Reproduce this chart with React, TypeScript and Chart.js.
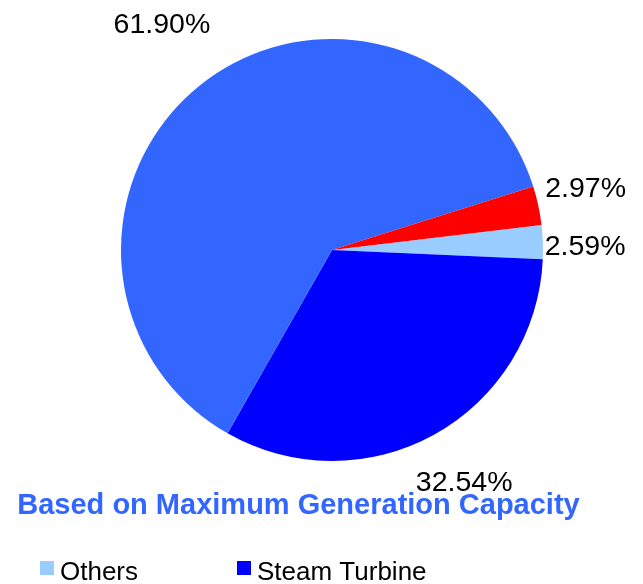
import React, { useEffect, useRef } from "react";
import { Chart, registerables } from "chart.js";

Chart.register(...registerables);

const categories = ["Others", "Steam Turbine", "Combined Cycle", "Gas Turbine"];
const shares = [2.59, 32.54, 61.9, 2.97];
const sliceColors = ["#99CCFF", "#0000FF", "#3366FF", "#FF0000"];
const titleText = "Based on Maximum Generation Capacity";

// label placement: distance from centre (x radius) and angle tweak (deg)
const labelDistance = [1.2, 1.262, 1.345, 1.238];
const labelAngleShift = [1.0, -0.85, 2.1, -1.7];

const FONT = "'Liberation Sans', Arial, Helvetica, sans-serif";

const overlayPlugin = {
  id: "overlay",
  afterDraw(chart: any) {
    const ctx = chart.ctx as CanvasRenderingContext2D;
    const meta = chart.getDatasetMeta(0);
    ctx.save();
    // percentage labels
    ctx.font = `28.5px ${FONT}`;
    ctx.fillStyle = "#000000";
    ctx.textAlign = "center";
    ctx.textBaseline = "alphabetic";
    meta.data.forEach((arc: any, i: number) => {
      const p = arc.getProps(["x", "y", "startAngle", "endAngle", "outerRadius"], true);
      const mid = (p.startAngle + p.endAngle) / 2 + (labelAngleShift[i] * Math.PI) / 180;
      const d = p.outerRadius * labelDistance[i];
      const cx = p.x + Math.cos(mid) * d;
      const cy = p.y + Math.sin(mid) * d;
      ctx.fillText(shares[i].toFixed(2) + "%", cx, cy + 10);
    });
    // title
    ctx.font = `bold 29px ${FONT}`;
    ctx.fillStyle = "#3366FF";
    ctx.textAlign = "center";
    ctx.fillText(titleText, 298.5, 514);
    // legend (2 columns)
    ctx.font = `26px ${FONT}`;
    ctx.textAlign = "left";
    const colX = [40, 237];
    categories.forEach((name, i) => {
      const col = i % 2;
      const row = Math.floor(i / 2);
      const x = colX[col];
      const y = 561 + row * 38;
      ctx.fillStyle = sliceColors[i];
      ctx.fillRect(x, y, 14, 14);
      ctx.fillStyle = "#000000";
      ctx.fillText(name, x + 20, y + 19);
    });
    ctx.restore();
  },
};

export default function App() {
  const ref = useRef<HTMLCanvasElement | null>(null);
  useEffect(() => {
    if (!ref.current) return;
    const chart = new Chart(ref.current, {
      type: "pie",
      data: {
        labels: categories,
        datasets: [
          {
            data: shares,
            backgroundColor: sliceColors,
            borderWidth: 0,
          },
        ],
      },
      options: {
        responsive: false,
        animation: false,
        rotation: 83.2,
        layout: { padding: { top: 39, bottom: 123, left: 121, right: 100 } },
        plugins: {
          legend: { display: false },
          title: { display: false },
          tooltip: { enabled: false },
        },
      },
      plugins: [overlayPlugin],
    });
    return () => chart.destroy();
  }, []);
  return (
    <div style={{ position: "absolute", left: 0, top: 0, width: 643, height: 584, overflow: "hidden", background: "#fff" }}>
      <canvas ref={ref} width={643} height={584} style={{ width: 643, height: 584, display: "block" }} />
    </div>
  );
}
